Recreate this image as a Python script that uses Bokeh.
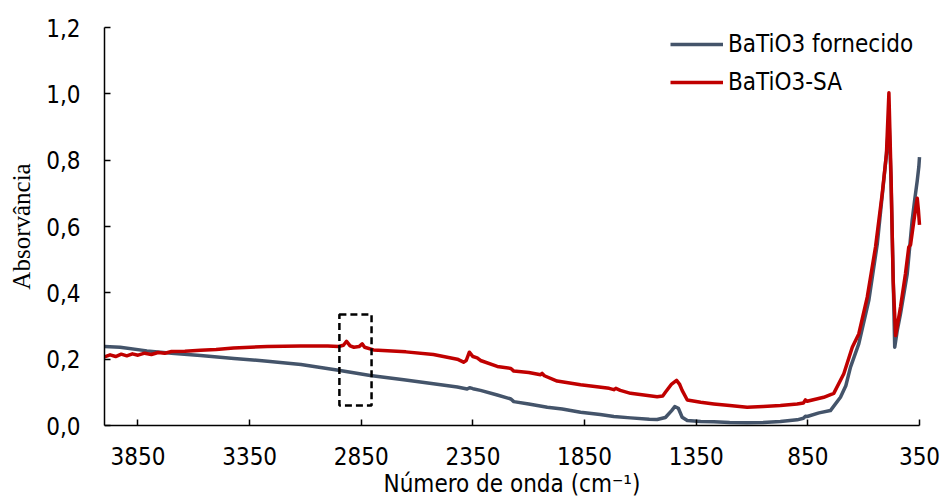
from bokeh.plotting import figure
from bokeh.models import Range1d, FixedTicker, Legend, LegendItem, LinearAxis
from bokeh.embed import file_html
from bokeh.resources import INLINE

# ---- data ----
series_names = ["BaTiO3 fornecido", "BaTiO3-SA"]

wn_fornecido = [4000, 3930, 3810, 3700, 3570, 3420, 3270, 3120, 2945, 2810,
                2660, 2527, 2420, 2376, 2365, 2350, 2316, 2241, 2180, 2167,
                2100, 2017, 1950, 1868, 1780, 1719, 1644, 1560, 1525, 1488,
                1460, 1446, 1430, 1413, 1390, 1330, 1271, 1200, 1122, 1050,
                973, 898, 870, 861, 853, 800, 749, 704, 680, 659,
                622, 577, 539, 510, 495, 487, 478, 468, 461, 450,
                435, 405, 383, 372, 360, 353, 350]
abs_fornecido = [0.238, 0.236, 0.225, 0.218, 0.211, 0.202, 0.194, 0.184, 0.166, 0.151,
                 0.138, 0.126, 0.116, 0.110, 0.114, 0.111, 0.106, 0.092, 0.080, 0.072,
                 0.065, 0.055, 0.050, 0.040, 0.033, 0.027, 0.023, 0.019, 0.018, 0.024,
                 0.045, 0.057, 0.052, 0.025, 0.015, 0.012, 0.011, 0.009, 0.008, 0.009,
                 0.012, 0.017, 0.022, 0.028, 0.027, 0.038, 0.045, 0.085, 0.120, 0.176,
                 0.246, 0.377, 0.548, 0.739, 0.839, 0.930, 0.750, 0.450, 0.236, 0.285,
                 0.337, 0.457, 0.618, 0.678, 0.739, 0.780, 0.809]

wn_sa = [4000, 3975, 3950, 3925, 3900, 3875, 3850, 3820, 3790, 3760,
         3730, 3700, 3640, 3570, 3500, 3422, 3271, 3122, 3000, 2952,
         2930, 2916, 2900, 2883, 2860, 2846, 2835, 2795, 2650, 2527,
         2420, 2392, 2380, 2366, 2350, 2331, 2316, 2241, 2180, 2167,
         2100, 2047, 2040, 2030, 1973, 1868, 1740, 1719, 1710, 1690,
         1644, 1525, 1500, 1488, 1460, 1438, 1425, 1413, 1390, 1330,
         1271, 1200, 1122, 1050, 973, 898, 870, 861, 853, 779,
         734, 689, 651, 622, 584, 547, 517, 498, 487, 477,
         468, 457, 435, 413, 398, 390, 375, 365, 360, 355, 350]
abs_sa = [0.207, 0.213, 0.208, 0.215, 0.210, 0.216, 0.212, 0.218, 0.214, 0.220,
          0.218, 0.223, 0.224, 0.227, 0.229, 0.234, 0.238, 0.240, 0.240, 0.238,
          0.242, 0.254, 0.240, 0.236, 0.238, 0.246, 0.236, 0.228, 0.222, 0.214,
          0.200, 0.191, 0.196, 0.221, 0.208, 0.204, 0.196, 0.178, 0.172, 0.164,
          0.160, 0.153, 0.157, 0.150, 0.134, 0.123, 0.112, 0.108, 0.112, 0.106,
          0.097, 0.087, 0.089, 0.100, 0.125, 0.136, 0.125, 0.106, 0.077, 0.070,
          0.065, 0.060, 0.055, 0.057, 0.060, 0.065, 0.068, 0.077, 0.073, 0.085,
          0.097, 0.156, 0.236, 0.276, 0.387, 0.538, 0.699, 0.819, 1.003, 0.739,
          0.437, 0.271, 0.357, 0.457, 0.538, 0.545, 0.618, 0.665, 0.685, 0.650, 0.605]

x_axis_bounds = (350, 4000)
x_ticks = [3850, 3350, 2850, 2350, 1850, 1350, 850, 350]
y_axis_bounds = (0.0, 1.2)
y_ticks = [0.0, 0.2, 0.4, 0.6, 0.8, 1.0, 1.2]
y_tick_labels = ["0,0", "0,2", "0,4", "0,6", "0,8", "1,0", "1,2"]

box_wn = [2804, 2948]
box_abs = [0.06, 0.335]

x_title = "Número de onda (cm⁻¹)"
y_title = "Absorvância"

# ---- layout geometry (pixels) ----
W, H = 944, 498
LEFT, TOP = 104, 27
AXIS_X_RIGHT = 919                 # pixel column of wavenumber 350
AXIS_Y = 425                       # pixel row of absorbance 0
# the frame runs to the right and bottom edges; the x axis sits at y=0 inside it
frame_h = H - TOP
x_lo, x_hi = x_axis_bounds
x_end = x_lo - (x_hi - x_lo) * (W - AXIS_X_RIGHT) / (AXIS_X_RIGHT - LEFT)
y_top = y_axis_bounds[1]
y_bottom = -y_top * (H - AXIS_Y) / (AXIS_Y - TOP)
x_mid = (x_lo + x_hi) / 2
y_mid = (y_axis_bounds[0] + y_axis_bounds[1]) / 2

FONT = "DejaVu Sans Condensed"
p = figure(width=W, height=H, output_backend="svg", toolbar_location=None,
           x_range=Range1d(x_hi, x_end), y_range=Range1d(y_bottom, y_top),
           min_border_left=LEFT, min_border_right=0, min_border_top=TOP,
           min_border_bottom=0)
p.outline_line_color = None
p.xgrid.visible = False
p.ygrid.visible = False
p.background_fill_color = "white"
p.border_fill_color = "white"

for ax in (p.xaxis[0], p.yaxis[0]):
    ax.axis_line_color = "black"
    ax.axis_line_width = 1.5
    ax.major_tick_line_color = "black"
    ax.major_tick_line_width = 1.5
    ax.major_tick_in = 6
    ax.major_tick_out = 0
    ax.minor_tick_line_color = None
    ax.major_label_text_font = FONT
    ax.major_label_text_font_size = "24px"
    ax.major_label_text_color = "black"

xa = p.xaxis[0]
xa.fixed_location = 0
xa.bounds = x_axis_bounds
xa.ticker = FixedTicker(ticks=x_ticks)
xa.major_label_standoff = 21

ya = p.yaxis[0]
ya.bounds = y_axis_bounds
ya.ticker = FixedTicker(ticks=y_ticks)
ya.major_label_overrides = {t: l for t, l in zip(y_ticks, y_tick_labels)}
ya.major_label_standoff = 24

# x-axis title (centred under the axis span)
xt = LinearAxis(fixed_location=0, ticker=FixedTicker(ticks=[x_mid]),
                major_label_overrides={x_mid: x_title},
                axis_line_color=None, major_tick_line_color=None,
                minor_tick_line_color=None, major_label_standoff=38,
                major_label_text_font=FONT, major_label_text_font_size="24px",
                major_label_text_color="black")
p.add_layout(xt, "below")

# y-axis title (centred beside the axis span)
yt = LinearAxis(ticker=FixedTicker(ticks=[y_mid]),
                major_label_overrides={y_mid: y_title},
                major_label_orientation="vertical",
                axis_line_color=None, major_tick_line_color=None,
                minor_tick_line_color=None, major_label_standoff=9,
                major_tick_in=0, major_tick_out=0,
                major_label_text_font="Liberation Serif",
                major_label_text_font_size="25px",
                major_label_text_color="black")
p.add_layout(yt, "left")

r1 = p.line(wn_fornecido, abs_fornecido, line_color="#44546A", line_width=3.5,
            line_join="round")
r2 = p.line(wn_sa, abs_sa, line_color="#C00000", line_width=3.5, line_join="round")

p.quad(left=box_wn[1], right=box_wn[0], bottom=box_abs[0], top=box_abs[1],
       fill_alpha=0, line_color="black", line_width=2.5, line_dash="7 4")

legend = Legend(items=[LegendItem(label=series_names[0], renderers=[r1]),
                       LegendItem(label=series_names[1], renderers=[r2])],
                location=(566, frame_h + 1 - 74), glyph_width=53, glyph_height=36,
                label_height=36, label_standoff=5, spacing=2, padding=0,
                margin=0, border_line_alpha=0, background_fill_alpha=0,
                label_text_font=FONT, label_text_font_size="24px",
                label_text_color="black")
p.add_layout(legend)

open("out.html", "w").write(file_html(p, INLINE))
